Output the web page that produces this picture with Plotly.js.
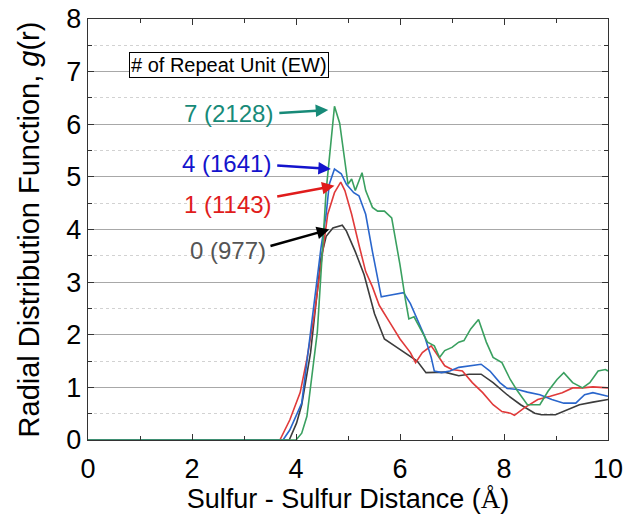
<!DOCTYPE html>
<html><head><meta charset="utf-8">
<script src="https://cdn.plot.ly/plotly-3.0.1.min.js"></script>
<style>html,body{margin:0;padding:0;background:#fff}#chart{width:625px;height:516px}</style>
</head><body><div id="chart"></div>
<script>
// Series: 7 repeat units (EW 2128)
const greenX = [0, 4.0, 4.11, 4.21, 4.41, 4.58, 4.74, 4.84, 5.0, 5.07, 5.14, 5.27, 5.34, 5.47, 5.57, 5.70, 5.84, 6.0, 6.1, 6.17, 6.27, 6.4, 6.53, 6.66, 6.76, 6.86, 7.0, 7.13, 7.23, 7.36, 7.51, 7.66, 7.79, 7.96, 8.12, 8.26, 8.45, 8.69, 8.85, 9.02, 9.15, 9.32, 9.51, 9.65, 9.81, 9.95, 10];
const greenY = [0, 0, 0.13, 0.45, 2.05, 4.74, 6.34, 6.02, 4.86, 4.96, 4.74, 5.08, 4.74, 4.42, 4.35, 4.35, 4.22, 3.33, 2.69, 2.30, 2.34, 2.11, 1.86, 1.79, 1.57, 1.70, 1.76, 1.86, 1.89, 2.11, 2.29, 1.86, 1.57, 1.47, 1.15, 0.93, 0.67, 0.67, 0.93, 1.15, 1.28, 1.09, 0.99, 1.09, 1.31, 1.34, 1.31];
// Series: 4 repeat units (EW 1641)
const blueX = [0, 3.75, 3.88, 4.11, 4.28, 4.48, 4.58, 4.64, 4.74, 4.87, 4.97, 5.11, 5.21, 5.34, 5.47, 5.64, 5.8, 6.07, 6.2, 6.33, 6.47, 6.6, 6.66, 6.8, 6.96, 7.13, 7.39, 7.56, 7.73, 7.92, 8.06, 8.26, 8.45, 8.69, 8.92, 9.15, 9.38, 9.55, 9.71, 10];
const blueY = [0, 0, 0.19, 0.70, 2.05, 3.65, 4.29, 4.86, 5.15, 5.06, 4.86, 4.70, 4.64, 4.29, 3.58, 2.72, 2.75, 2.80, 2.59, 2.30, 1.98, 1.57, 1.31, 1.28, 1.31, 1.38, 1.41, 1.44, 1.31, 1.09, 0.98, 0.96, 0.91, 0.86, 0.77, 0.70, 0.70, 0.86, 0.90, 0.83];
// Series: 1 repeat unit (EW 1143)
const redX = [0, 3.69, 3.88, 4.08, 4.21, 4.34, 4.48, 4.61, 4.74, 4.86, 4.94, 5.07, 5.21, 5.34, 5.47, 5.6, 5.8, 6.0, 6.2, 6.3, 6.43, 6.6, 6.73, 6.86, 7.0, 7.2, 7.39, 7.59, 7.79, 7.96, 8.12, 8.2, 8.39, 8.65, 8.89, 9.12, 9.32, 9.51, 9.71, 10];
const redY = [0, 0, 0.38, 0.90, 1.54, 2.30, 3.33, 4.29, 4.70, 4.90, 4.74, 4.29, 3.71, 3.20, 2.91, 2.56, 2.24, 1.92, 1.66, 1.47, 1.66, 1.79, 1.60, 1.41, 1.34, 1.31, 1.09, 0.90, 0.67, 0.54, 0.51, 0.47, 0.61, 0.77, 0.83, 0.90, 0.99, 0.99, 1.01, 0.99];
// Series: 0 repeat units (EW 977)
const blackX = [0, 3.87, 4.01, 4.11, 4.28, 4.48, 4.58, 4.71, 4.89, 4.97, 5.14, 5.31, 5.51, 5.7, 5.94, 6.13, 6.33, 6.5, 6.66, 6.86, 7.13, 7.33, 7.56, 7.79, 8.06, 8.32, 8.59, 8.72, 8.99, 9.25, 9.45, 9.71, 10];
const blackY = [0, 0, 0.32, 0.67, 1.66, 3.46, 3.87, 4.03, 4.08, 3.97, 3.58, 3.14, 2.40, 1.92, 1.76, 1.63, 1.50, 1.28, 1.28, 1.29, 1.22, 1.25, 1.25, 1.09, 0.86, 0.67, 0.51, 0.48, 0.48, 0.59, 0.67, 0.72, 0.77];

const seriesLabels = ['0 (977)', '1 (1143)', '4 (1641)', '7 (2128)'];
const boxTitle = '# of Repeat Unit (EW)';
const xTicks = [0, 2, 4, 6, 8, 10];
const yTicks = [0, 1, 2, 3, 4, 5, 6, 7, 8];

const lineW = 1.6;
const traces = [
  {x: blackX, y: blackY, mode: 'lines', line: {color: '#3c3c3c', width: lineW}, name: seriesLabels[0]},
  {x: redX, y: redY, mode: 'lines', line: {color: '#e03a3a', width: lineW}, name: seriesLabels[1]},
  {x: blueX, y: blueY, mode: 'lines', line: {color: '#2a66cc', width: lineW}, name: seriesLabels[2]},
  {x: greenX, y: greenY, mode: 'lines', line: {color: '#3aa060', width: lineW}, name: seriesLabels[3]}
];

const font = 'Arial, "Liberation Sans", sans-serif';
function label(text, x, y, color) {
  return {x: x, y: y, xref: 'x', yref: 'y', text: text, showarrow: false, xanchor: 'right', yanchor: 'middle', font: {family: font, size: 24, color: color}};
}
function arrow(x, y, ax, ay, color) {
  return {x: x, y: y, ax: ax, ay: ay, xref: 'x', yref: 'y', axref: 'x', ayref: 'y', text: '', showarrow: true, arrowhead: 2, arrowsize: 1, arrowwidth: 2.5, arrowcolor: color, standoff: 0, startstandoff: 0};
}

const layout = {
  width: 625, height: 516,
  margin: {l: 88, r: 17, t: 19, b: 76},
  paper_bgcolor: '#fff', plot_bgcolor: '#fff',
  showlegend: false,
  font: {family: font, color: '#000'},
  xaxis: {
    range: [0, 10], tickvals: xTicks, ticktext: xTicks.map(String),
    showgrid: false, zeroline: false,
    showline: true, linecolor: '#333', linewidth: 1.2, mirror: 'ticks',
    ticks: 'inside', ticklen: 6, tickcolor: '#333', ticklabelstandoff: 4,
    minor: {dtick: 1, tick0: 0, ticks: 'inside', ticklen: 4, tickcolor: '#333', showgrid: false},
    tickfont: {family: font, size: 27, color: '#000'},
    title: {text: 'Sulfur - Sulfur Distance (<span style="font-family:\'Liberation Serif\',Times,serif">Å</span>)', font: {family: font, size: 27, color: '#000'}, standoff: 6}
  },
  yaxis: {
    range: [0, 8], tickvals: yTicks, ticktext: yTicks.map(String),
    showgrid: true, gridcolor: '#a8a8a8', gridwidth: 1, zeroline: false,
    showline: true, linecolor: '#333', linewidth: 1.2, mirror: 'ticks',
    ticks: 'inside', ticklen: 6, tickcolor: '#333',
    minor: {dtick: 0.5, tick0: 0, ticks: 'inside', ticklen: 4, tickcolor: '#333', showgrid: true, gridcolor: '#d2d2d2', griddash: 'dot', gridwidth: 1},
    tickfont: {family: font, size: 27, color: '#000'},
    title: {text: 'Radial Distribution Function, <i>g</i>(r)', font: {family: font, size: 29, color: '#000'}, standoff: 18}
  },
  annotations: [
    {x: 2.72, y: 7.12, xref: 'x', yref: 'y', text: boxTitle, showarrow: false, font: {family: font, size: 20, color: '#000'}, bordercolor: '#000', borderwidth: 1, borderpad: 1, bgcolor: '#fff'},
    label(seriesLabels[3], 3.6, 6.21, '#178a78'),
    arrow(4.62, 6.27, 3.65, 6.21, '#178a78'),
    label(seriesLabels[2], 3.55, 5.25, '#1414cc'),
    arrow(4.67, 5.15, 3.61, 5.22, '#1414cc'),
    label(seriesLabels[1], 3.58, 4.48, '#e01c1c'),
    arrow(4.74, 4.83, 3.61, 4.62, '#e01c1c'),
    label(seriesLabels[0], 3.46, 3.61, '#555555'),
    arrow(4.64, 4.0, 3.48, 3.68, '#000000')
  ]
};

Plotly.newPlot('chart', traces, layout, {displayModeBar: false, staticPlot: true});
</script></body></html>
